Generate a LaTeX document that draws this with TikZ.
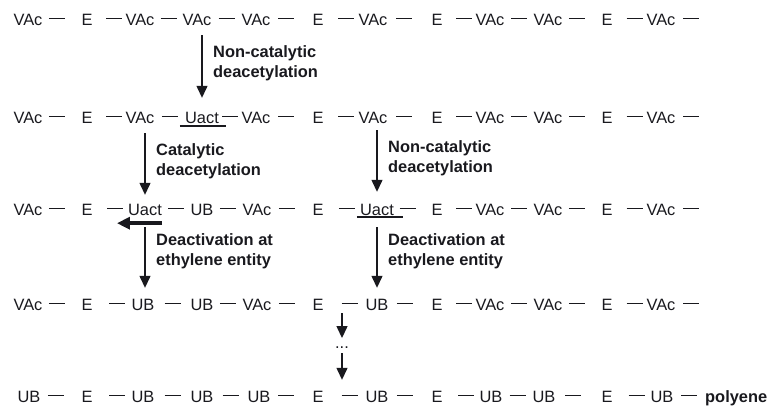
\documentclass[tikz,border=0pt]{standalone}
\usepackage{fontspec}
\setmainfont{Liberation Sans}
\usetikzlibrary{arrows.meta, positioning, calc}
\definecolor{ink}{RGB}{25,25,30}

\begin{document}
\begin{tikzpicture}[
  x=1pt, y=-1pt,
  font=\fontsize{16.4}{20}\selectfont,
  unit/.style={inner sep=0pt, text height=13pt, text depth=0pt, anchor=base, text=ink},
  mon/E/.style={inner xsep=10pt},
  note/.style={inner sep=0pt, align=left, anchor=base west, text=ink,
    font=\fontsize{16.4}{20}\selectfont\bfseries},
  bond/.style={draw=ink, line width=1.4pt},
  arr/.style={-{Triangle[length=12pt, width=11pt]}, draw=ink, line width=1.3pt},
  back/.style={-{Triangle[length=13pt, width=12pt]}, draw=ink, line width=3.5pt},
  uline/.style={draw=ink, line width=2pt}
]
\useasboundingbox (0,0) rectangle (770,407);

% chains
\foreach \x/\t [count=\i] in {28/VAc, 87/E, 140/VAc, 197/VAc, 256/VAc, 318/E,
    373/VAc, 437/E, 490/VAc, 548/VAc, 607/E, 661/VAc}
  \node[unit, mon/\t/.try] (a\i) at (\x,25) {\t};
\foreach \x/\t [count=\i] in {28/VAc, 87/E, 140/VAc, 202/Uact, 256/VAc, 318/E,
    373/VAc, 437/E, 490/VAc, 548/VAc, 607/E, 661/VAc}
  \node[unit, mon/\t/.try] (b\i) at (\x,123) {\t};
\foreach \x/\t [count=\i] in {28/VAc, 87/E, 145/Uact, 202/UB, 257/VAc, 318/E,
    377/Uact, 437/E, 490/VAc, 548/VAc, 607/E, 661/VAc}
  \node[unit, mon/\t/.try] (c\i) at (\x,215) {\t};
\foreach \x/\t [count=\i] in {28/VAc, 87/E, 143/UB, 202/UB, 257/VAc, 318/E,
    377/UB, 437/E, 490/VAc, 548/VAc, 607/E, 661/VAc}
  \node[unit, mon/\t/.try] (d\i) at (\x,310) {\t};
\foreach \x/\t [count=\i] in {29/UB, 87/E, 143/UB, 202/UB, 259/UB, 318/E,
    377/UB, 437/E, 491/UB, 544/UB, 607/E, 662/UB}
  \node[unit, mon/\t/.try] (e\i) at (\x,402) {\t};
\node[unit, anchor=base west, font=\fontsize{16.4}{20}\selectfont\bfseries] (poly) at (705,402) {polyene};

% bonds
\foreach \row in {a,b,c,d,e}
  \foreach \k [remember=\k as \prev (initially 1)] in {2,...,12}
    \draw[bond] ($(\row\prev.east)!.5!(\row\k.west)$) +(-8,0) -- +(8,0);
\foreach \row in {a,b,c,d} {
  \coordinate[right=31pt of \row12] (\row13);
  \draw[bond] ($(\row12.east)!.5!(\row13)$) +(-8,0) -- +(8,0);
}
\draw[bond] ($(e12.east)!.5!(poly.west)$) +(-8,0) -- +(8,0);

% active units
\draw[uline] ([xshift=-5pt, yshift=-3pt]b4.south west) -- ([xshift=7pt, yshift=-3pt]b4.south east);
\draw[uline] ([xshift=-3pt, yshift=-2pt]c7.south west) -- ([xshift=9pt, yshift=-2pt]c7.south east);
\draw[back] ([yshift=-8pt]c3.south east) -- ([xshift=-11pt, yshift=-8pt]c3.south west);

% steps
\draw[arr, shorten <=10pt, shorten >=12pt] (a4.south -| b4) -- (b4.north);
\node[note] (n1) at (213,77.5) {Non-catalytic\\deacetylation};
\draw[arr, shorten <=10pt, shorten >=7pt] (b3.south -| c3) -- (c3.north);
\node[note] (n2) at (156,175) {Catalytic\\deacetylation};
\draw[arr, shorten <=7pt, shorten >=10pt] (b7.south -| c7) -- (c7.north);
\node[note] (n3) at (388,172) {Non-catalytic\\deacetylation};
\draw[arr, shorten <=12pt, shorten >=9pt] (c3.south) -- (c3.south |- d3.north);
\node[note] (n4) at (156,265) {Deactivation at\\ethylene entity};
\draw[arr, shorten <=12pt, shorten >=9pt] (c7.south) -- (d7.north);
\node[note] (n5) at (388,265) {Deactivation at\\ethylene entity};

\node[inner sep=0pt, anchor=base, text=ink] (dots) at (342,348) {...};
\draw[arr, shorten <=3pt, shorten >=8pt] (dots |- d7.south) -- (dots.north);
\draw[arr, shorten <=5pt, shorten >=9pt] (dots.south) -- (dots |- e7.north);
\end{tikzpicture}
\end{document}
